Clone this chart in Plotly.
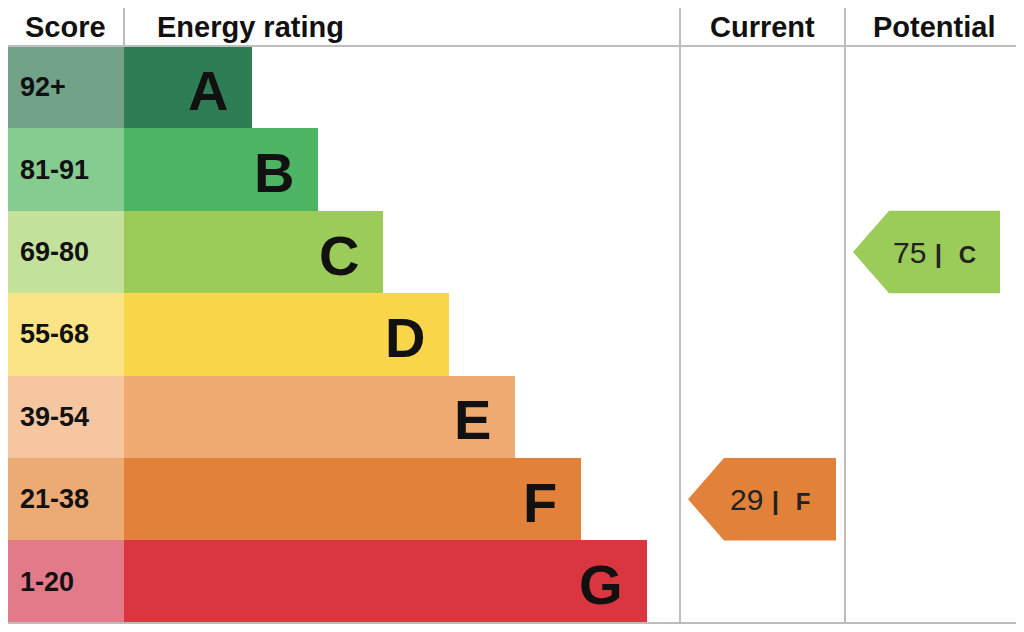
import plotly.graph_objects as go

# EPC chart data
bands = ["A", "B", "C", "D", "E", "F", "G"]
score_ranges = ["92+", "81-91", "69-80", "55-68", "39-54", "21-38", "1-20"]
band_colors = ["#2f7d54", "#4db464", "#9bcb58", "#f9d549", "#f0ab72", "#e2823a", "#d9363f"]
score_colors = ["#72a389", "#86cc91", "#c4e19c", "#fbe486", "#f5c6a0", "#ecaa74", "#e37a8a"]
bar_right = [252, 318, 383, 449, 515, 581, 647]

current_score = 29
current_band = "F"
potential_score = 75
potential_band = "C"

# layout in pixels (page has an 8px body margin, so axes are offset by it)
top, row_h = 46, 82.4
score_x0, bar_x0 = 6, 124
cur_x0, cur_x1 = 688, 836
pot_x0, pot_x1 = 853, 1000
grid = "#bdbdbd"
font = "Liberation Sans, Arial, sans-serif"
off = 8

centers = [top + row_h * (i + 0.5) for i in range(len(bands))]

fig = go.Figure()
fig.add_trace(go.Bar(orientation="h", y=centers, x=[bar_x0 - score_x0] * len(bands),
                     base=score_x0, width=row_h, marker=dict(color=score_colors, line_width=0),
                     hoverinfo="skip"))
fig.add_trace(go.Bar(orientation="h", y=centers, x=[r - bar_x0 for r in bar_right],
                     base=bar_x0, width=row_h, marker=dict(color=band_colors, line_width=0),
                     hoverinfo="skip"))

for i, b in enumerate(bands):
    fig.add_annotation(x=score_x0 + 12, y=centers[i], text=f"<b>{score_ranges[i]}</b>", showarrow=False,
                       xanchor="left", font=dict(family=font, size=27, color="#111"))
    fig.add_annotation(x=bar_right[i] - 22, y=centers[i] + 3, text=f"<b>{b}</b>", showarrow=False,
                       xanchor="right", font=dict(family=font, size=56, color="#111"))


def arrow(score, band, x0, x1):
    i = bands.index(band)
    c = centers[i]
    y0, y1 = c - row_h / 2, c + row_h / 2
    tip = 36
    fig.add_trace(go.Scatter(x=[x0, x0 + tip, x1, x1, x0 + tip, x0], y=[c, y0, y0, y1, y1, c],
                             fill="toself", fillcolor=band_colors[i], mode="lines",
                             line=dict(width=0, color=band_colors[i]), hoverinfo="skip"))
    fig.add_annotation(x=(x0 + x1) / 2 + 8, y=c, showarrow=False,
                       text=f"{score} <b style='font-size:26px'>|</b>  <b style='font-size:24px'>{band}</b>",
                       font=dict(family=font, size=30, color="#222"))


arrow(current_score, current_band, cur_x0, cur_x1)
arrow(potential_score, potential_band, pot_x0, pot_x1)

# headers
headers = [("Score", 65), ("Energy rating", 250), ("Current", 762), ("Potential", 934)]
for t, x in headers:
    fig.add_annotation(x=x, y=27, text=f"<b>{t}</b>", showarrow=False,
                       font=dict(family=font, size=29, color="#111"))

# grid lines
for y in [6, 46, 623]:
    fig.add_shape(type="line", x0=6, x1=1017, y0=y, y1=y, line=dict(color=grid, width=2))
for x in [6, 680, 845, 1017]:
    fig.add_shape(type="line", x0=x, x1=x, y0=6, y1=623, line=dict(color=grid, width=2))
fig.add_shape(type="line", x0=124, x1=124, y0=6, y1=46, line=dict(color=grid, width=2))

fig.update_layout(width=1024, height=632, margin=dict(l=0, r=0, t=0, b=0),
                  plot_bgcolor="white", paper_bgcolor="white", showlegend=False,
                  bargap=0, barmode="overlay",
                  xaxis=dict(range=[off, 1024 + off], visible=False, fixedrange=True),
                  yaxis=dict(range=[632 + off, off], visible=False, fixedrange=True))
fig.write_html("out.html")
